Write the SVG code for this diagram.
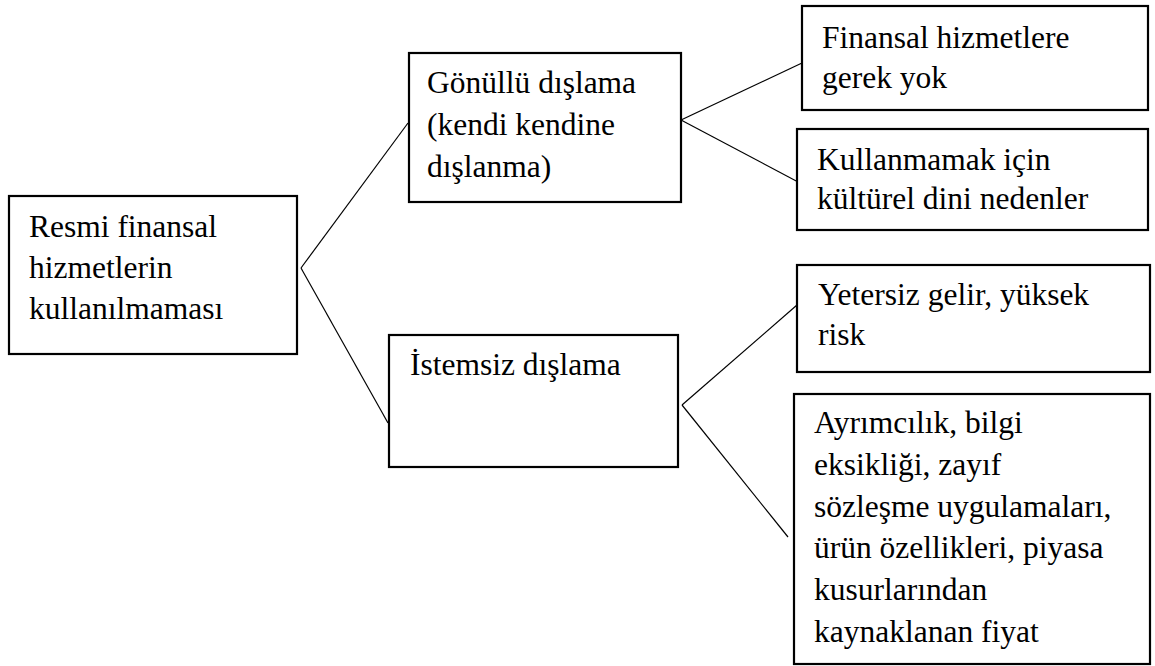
<svg xmlns="http://www.w3.org/2000/svg" width="1155" height="666" viewBox="0 0 1155 666">
<style>
.box{fill:#fff;stroke:#000;stroke-width:2.2}
.t{font-family:"Liberation Serif","Times New Roman",serif;font-size:31.5px;fill:#000}
.c{stroke:#000;stroke-width:1.2;fill:none}
</style>
<rect width="1155" height="666" fill="#fff"/>
<g id="connectors">
<line class="c" x1="301" y1="268" x2="408" y2="123"/>
<line class="c" x1="301" y1="268" x2="388" y2="423"/>
<line class="c" x1="681" y1="120" x2="802" y2="63"/>
<line class="c" x1="681" y1="120" x2="800" y2="183"/>
<line class="c" x1="682" y1="405" x2="797" y2="305"/>
<line class="c" x1="682" y1="405" x2="788" y2="537"/>
</g>
<g id="root">
<rect class="box" x="9" y="196" width="288" height="158"/>
<text class="t" x="29" y="237">Resmi finansal</text>
<text class="t" x="29" y="278">hizmetlerin</text>
<text class="t" x="29" y="319">kullanılmaması</text>
</g>
<g id="gonullu">
<rect class="box" x="409" y="53" width="272" height="149"/>
<text class="t" x="427" y="93">Gönüllü dışlama</text>
<text class="t" x="427" y="135">(kendi kendine</text>
<text class="t" x="427" y="177">dışlanma)</text>
</g>
<g id="istemsiz">
<rect class="box" x="389" y="335" width="289" height="132"/>
<text class="t" x="410" y="375">İstemsiz dışlama</text>
</g>
<g id="gerek-yok">
<rect class="box" x="802" y="6" width="346" height="104"/>
<text class="t" x="822" y="48">Finansal hizmetlere</text>
<text class="t" x="822" y="88">gerek yok</text>
</g>
<g id="kulturel">
<rect class="box" x="797" y="129" width="351" height="101"/>
<text class="t" x="817" y="170">Kullanmamak için</text>
<text class="t" x="817" y="209">kültürel dini nedenler</text>
</g>
<g id="yetersiz">
<rect class="box" x="797" y="265" width="353" height="107"/>
<text class="t" x="818" y="305">Yetersiz gelir, yüksek</text>
<text class="t" x="818" y="345">risk</text>
</g>
<g id="ayrimcilik">
<rect class="box" x="794" y="394" width="356" height="270"/>
<text class="t" x="814" y="433">Ayrımcılık, bilgi</text>
<text class="t" x="814" y="475">eksikliği, zayıf</text>
<text class="t" x="814" y="517">sözleşme uygulamaları,</text>
<text class="t" x="814" y="558">ürün özellikleri, piyasa</text>
<text class="t" x="814" y="600">kusurlarından</text>
<text class="t" x="814" y="642">kaynaklanan fiyat</text>
</g>
</svg>
